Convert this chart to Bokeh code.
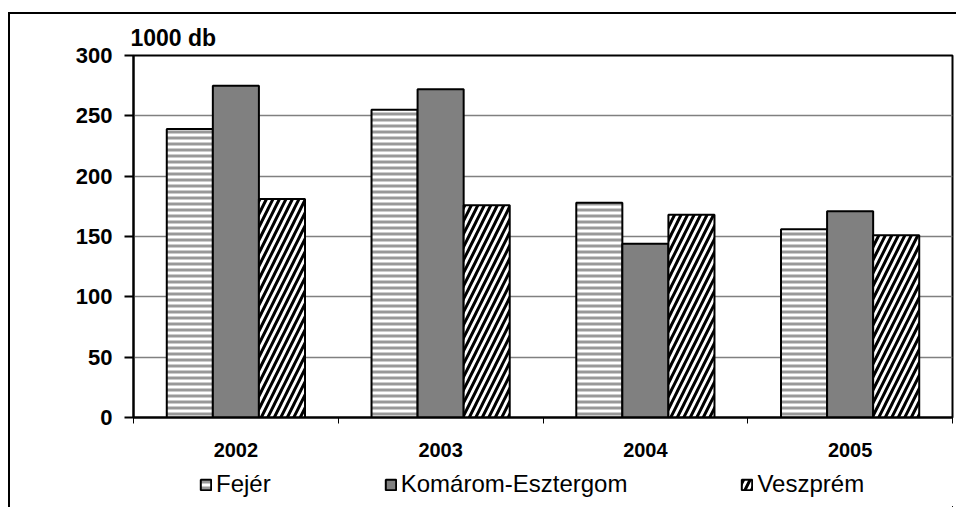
from bokeh.plotting import figure
from bokeh.layouts import column
from bokeh.models import (FixedTicker, Legend, LegendItem, Title, Range1d)
from bokeh.embed import file_html
from bokeh.resources import INLINE

years = ["2002", "2003", "2004", "2005"]
fejer = [239, 255, 178, 156]
komarom = [275, 272, 144, 171]
veszprem = [181, 176, 168, 151]
series_names = ["Fejér", "Komárom-Esztergom", "Veszprém"]
y_ticks = [0, 50, 100, 150, 200, 250, 300]

FONT = "Liberation Sans"
OFF_X, OFF_Y = 10, 14          # content origin inside the page (after CSS frame lines)
W = 956 - OFF_X
SPLIT = 462                    # page y where the legend strip starts
H1 = SPLIT - OFF_Y
H2 = 507 - SPLIT
ML = 133 - OFF_X
MT = 55 - OFF_Y
MR = W - (952 - OFF_X)
MB = H1 - (417 - OFF_Y)

p = figure(width=W, height=H1, output_backend="svg", toolbar_location=None,
           x_range=Range1d(0, len(years)), y_range=Range1d(0, 300),
           min_border_left=ML, min_border_right=MR, min_border_top=MT,
           min_border_bottom=MB, background_fill_color="white",
           border_fill_color="white")
p.outline_line_color = "black"
p.outline_line_width = 2

centers = [i + 0.5 for i in range(len(years))]
bw = 0.225

FEJ = dict(fill_color="white", line_color="black", line_width=2,
           hatch_pattern="-", hatch_color="#999999", hatch_scale=6, hatch_weight=3)
KOM = dict(fill_color="#808080", line_color="black", line_width=2)
VES = dict(fill_color="white", line_color="black", line_width=2,
           hatch_pattern="/", hatch_color="black", hatch_scale=13, hatch_weight=3)

p.vbar(x=[c - bw for c in centers], top=fejer, width=bw, bottom=0, **FEJ)
p.vbar(x=centers, top=komarom, width=bw, bottom=0, **KOM)
p.vbar(x=[c + bw for c in centers], top=veszprem, width=bw, bottom=0, **VES)

# axes
xa = p.xaxis[0]
xa.ticker = FixedTicker(ticks=centers, minor_ticks=list(range(len(years) + 1)))
xa.major_label_overrides = {c: y for c, y in zip(centers, years)}
xa.major_tick_out = 0
xa.major_tick_in = 0
xa.minor_tick_out = 6
xa.minor_tick_in = 0
xa.minor_tick_line_color = "black"
xa.minor_tick_line_width = 1
xa.axis_line_color = "black"
xa.axis_line_width = 2
xa.major_label_text_font = FONT
xa.major_label_text_font_style = "bold"
xa.major_label_text_font_size = "20px"
xa.major_label_text_color = "black"
xa.major_label_standoff = 19

ya = p.yaxis[0]
ya.ticker = FixedTicker(ticks=y_ticks)
ya.major_tick_out = 9
ya.major_tick_in = 0
ya.minor_tick_out = 0
ya.minor_tick_in = 0
ya.major_tick_line_width = 2
ya.major_tick_line_color = "black"
ya.axis_line_color = "black"
ya.axis_line_width = 2
ya.major_label_text_font = FONT
ya.major_label_text_font_style = "bold"
ya.major_label_text_font_size = "22px"
ya.major_label_text_color = "black"
ya.major_label_standoff = 12

p.xgrid.visible = False
p.ygrid.grid_line_color = "#808080"
p.ygrid.grid_line_width = 1.5

# unit label
p.title = Title(text="1000 db", align="left", offset=-3, standoff=9,
                text_font=FONT, text_font_style="bold", text_font_size="23px",
                text_color="black")

# legend strip: a second figure whose bars sit far outside its ranges
pl = figure(width=W, height=H2, output_backend="svg", toolbar_location=None,
            x_range=Range1d(-44, -40), y_range=Range1d(1990, 2000),
            x_axis_type=None, y_axis_type=None, min_border=0,
            background_fill_color="white", border_fill_color="white")
pl.outline_line_color = None
pl.grid.visible = False
l1 = pl.vbar(x=[c - bw for c in centers], top=fejer, width=bw, bottom=0, **FEJ)
l2 = pl.vbar(x=centers, top=komarom, width=bw, bottom=0, **KOM)
l3 = pl.vbar(x=[c + bw for c in centers], top=veszprem, width=bw, bottom=0, **VES)

legend = Legend(items=[LegendItem(label=series_names[0], renderers=[l1]),
                       LegendItem(label=series_names[1], renderers=[l2]),
                       LegendItem(label=series_names[2], renderers=[l3])],
                orientation="horizontal", location=(199 - 133, 9),
                glyph_width=13, glyph_height=13, label_standoff=4, spacing=113,
                padding=0, margin=0, border_line_color=None,
                background_fill_alpha=0,
                label_text_font=FONT, label_text_font_size="24px",
                label_text_color="black")
pl.add_layout(legend)

layout = column(p, pl, spacing=0,
                styles={"margin-top": "12px", "margin-left": "8px",
                        "border-top": "2px solid black",
                        "border-left": "2px solid black"})

open("out.html", "w").write(file_html(layout, INLINE))
